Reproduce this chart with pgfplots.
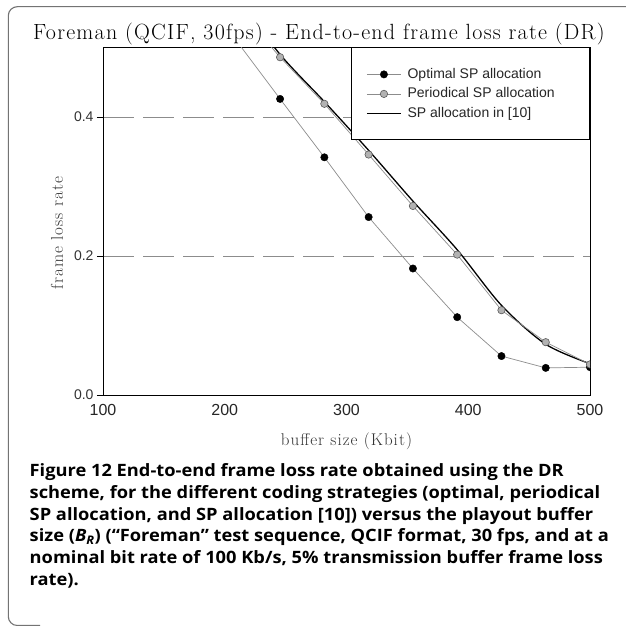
\documentclass[border=0pt]{standalone}
\usepackage{fontspec}
\usepackage{pgfplots}
\pgfplotsset{compat=1.18}
\setsansfont{Liberation Sans}
\newfontfamily\titlefont[LetterSpace=5.6]{Latin Modern Roman}
\newfontfamily\labelfont[LetterSpace=6]{Latin Modern Roman}
\newfontfamily\capfont[FakeStretch=1.075]{Open Sans}

% frame loss rate vs buffer size, points at 100 + k*400/11
\pgfplotstableread{
x       opt    per    ref
209.09  0.511  0.560  0.575
245.45  0.426  0.486  0.490
281.82  0.342  0.419  0.422
318.18  0.256  0.346  0.352
354.55  0.182  0.272  0.279
390.91  0.112  0.202  0.209
427.27  0.056  0.122  0.129
463.64  0.039  0.076  0.073
500.00  0.040  0.044  0.045
}\losstable

\begin{document}
\begin{tikzpicture}
\path[use as bounding box] (0,0) rectangle (626pt,626pt);
\draw[black!55, line width=1.1pt, rounded corners=9pt]
  (640pt,619.3pt) -- (8.3pt,619.3pt) -- (8.3pt,0.5pt) -- (40pt,0.5pt);

\node[anchor=base west, inner sep=0pt] at (33pt,586pt)
  {\titlefont\fontsize{22}{24}\selectfont Foreman (QCIF, 30fps) - End-to-end frame loss rate (DR)};

\begin{axis}[
  at={(103pt,231pt)}, anchor=south west,
  scale only axis, width=487pt, height=347.5pt,
  xmin=100, xmax=500, ymin=0, ymax=0.5,
  xtick={100,200,300,400,500},
  ytick={0,0.2,0.4},
  xtick pos=bottom, ytick pos=left,
  tick align=outside,
  major tick length=6pt,
  xtick style={draw=none},
  ytick style={black, line width=0.6pt},
  axis line style={black, line width=0.8pt},
  /pgf/number format/assume math mode=true,
  yticklabel style={font=\sffamily\fontsize{14}{16}\selectfont, text=black!80,
    /pgf/number format/.cd, fixed, fixed zerofill, precision=1},
  xticklabel style={font=\sffamily\fontsize{16}{18}\selectfont, text=black!85},
  ymajorgrids,
  grid style={black!45, line width=0.8pt, dash pattern=on 31pt off 9pt},
  xlabel={\labelfont\fontsize{17}{20}\selectfont buffer size (Kbit)},
  ylabel={\labelfont\fontsize{17}{20}\selectfont frame loss rate},
  xlabel style={at={(axis description cs:0.5,-0.133)}, anchor=center, text=black!80},
  ylabel style={at={(axis description cs:-0.0945,0.466)}, anchor=center, text=black!80},
  clip marker paths=true,
  legend style={at={(1,1)}, anchor=north east, draw=black, line width=0.8pt,
    fill=white, inner xsep=15pt, inner ysep=19.5pt, row sep=5.5pt, column sep=6pt,
    font=\sffamily\fontsize{14}{16}\selectfont,
    nodes={inner sep=0pt, text height=11pt, text depth=3pt, text=black!85}},
  legend cell align=left,
  legend image code/.code={\draw[mark repeat=2, mark phase=2, #1]
    plot coordinates {(0pt,0pt) (17pt,0pt) (34pt,0pt)};},
]
\addplot[black, line width=1.3pt, smooth, tension=0.5, forget plot]
  table[x=x, y=ref] {\losstable};
\addplot[black!45, line width=0.7pt, mark=*, mark size=3.7pt,
  mark options={fill=black, draw=black, line width=0.4pt}]
  table[x=x, y=opt] {\losstable};
\addlegendentry{\makebox[167pt][l]{Optimal SP allocation}}
\addplot[black!45, line width=0.7pt, mark=*, mark size=3.7pt,
  mark options={fill=black!30, draw=black!65, line width=0.6pt}]
  table[x=x, y=per] {\losstable};
\addlegendentry{\makebox[167pt][l]{Periodical SP allocation}}
\addlegendimage{black, line width=1.3pt}
\addlegendentry{\makebox[167pt][l]{SP allocation in [10]}}
\end{axis}

\node[anchor=base west, inner sep=0pt, align=left,
  font={\capfont\bfseries\fontsize{17}{21.7}\selectfont}] at (29.5pt,40.8pt)
  {Figure 12 End-to-end frame loss rate obtained using the DR\\
  scheme, for the different coding strategies (optimal, periodical\\
  SP allocation, and SP allocation [10]) versus the playout buffer\\
  size (\textit{B}\textsubscript{\textit{R}}) (“Foreman” test sequence, QCIF format, 30 fps, and at a\\
  nominal bit rate of 100 Kb/s, 5\% transmission buffer frame loss\\
  rate).};
\end{tikzpicture}
\end{document}
